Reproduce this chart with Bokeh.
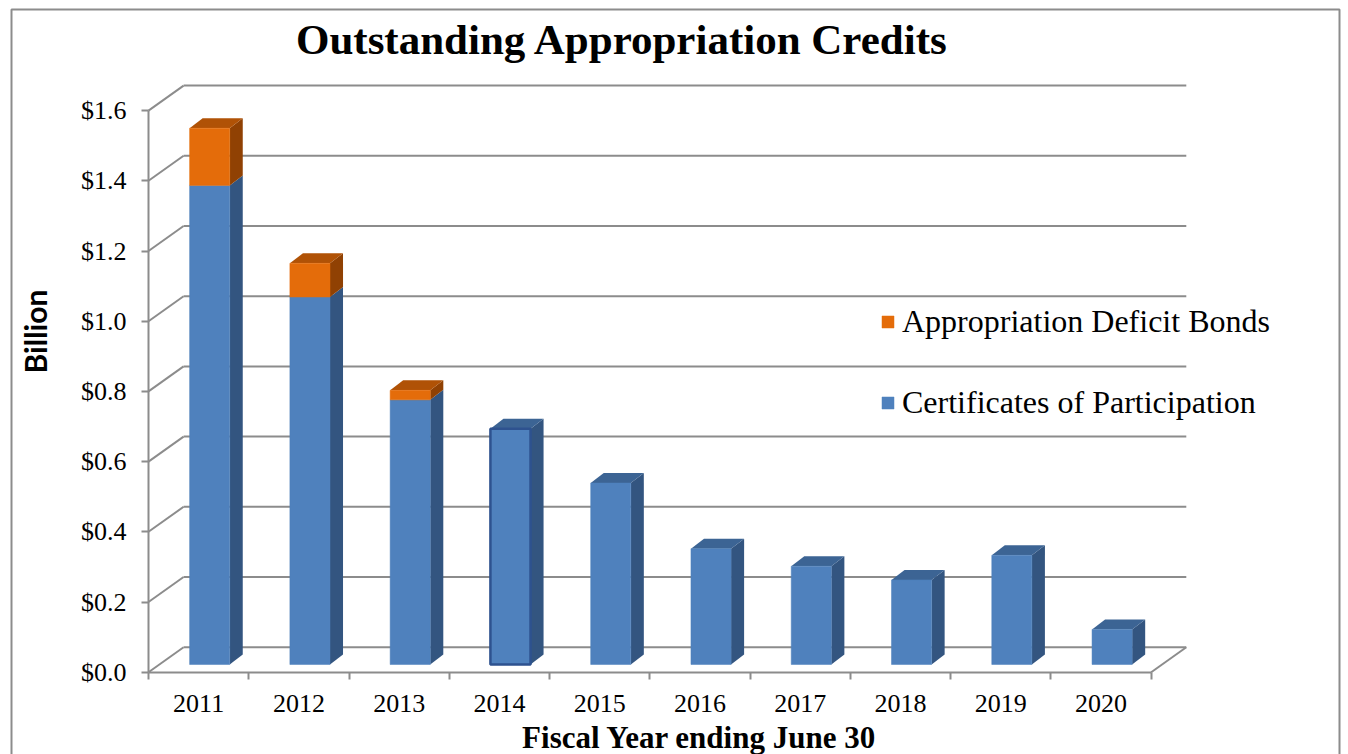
from bokeh.plotting import figure
from bokeh.models import (Range1d, LinearAxis, FixedTicker, Label, Legend,
                          LegendItem)
from bokeh.embed import file_html
from bokeh.resources import INLINE
import math

# ---------------- data ----------------
years = ["2011", "2012", "2013", "2014", "2015", "2016", "2017", "2018", "2019", "2020"]
certificates = [1.365, 1.047, 0.754, 0.672, 0.517, 0.330, 0.280, 0.241, 0.311, 0.100]
deficit_bonds = [0.163, 0.096, 0.027, 0.0, 0.0, 0.0, 0.0, 0.0, 0.0, 0.0]
series_names = ["Appropriation Deficit Bonds", "Certificates of Participation"]
y_ticks = [0.0, 0.2, 0.4, 0.6, 0.8, 1.0, 1.2, 1.4, 1.6]
y_tick_labels = ["$0.0", "$0.2", "$0.4", "$0.6", "$0.8", "$1.0", "$1.2", "$1.4", "$1.6"]
title_text = "Outstanding Appropriation Credits"
x_title = "Fiscal Year ending June 30"
y_title = "Billion"
highlight_year = "2014"

# ---------------- style ----------------
W, H = 1348, 754
PX_X, PX_Y = 100.27, 351.0          # pixels per data unit
ORIGIN_X, ORIGIN_Y = 148.0, 671.7   # canvas px of data origin (front axis)
WALL_DX, WALL_DY = 0.35, 25.0 / PX_Y
BAR_SHIFT, BAR_BASE, BAR_W = 0.11, 7.7 / PX_Y, 0.40
BAR_DX, BAR_DY = 0.13, 10.0 / PX_Y
GRID = "#8C8C8C"
BLUE, BLUE_SIDE, BLUE_TOP = "#4F81BD", "#335580", "#3C6494"
ORANGE, ORANGE_SIDE, ORANGE_TOP = "#E46C0A", "#904103", "#B05206"
SERIF = "Liberation Serif"
BORDER_L, BORDER_R, BORDER_T = 11, 1339, 9   # chart-area border, px


def px_x(v):
    return (v - ORIGIN_X) / PX_X


def px_y(v):
    return (ORIGIN_Y - v) / PX_Y


p = figure(width=W, height=H,
           x_range=Range1d(-ORIGIN_X / PX_X, (W - ORIGIN_X) / PX_X),
           y_range=Range1d(-(H - ORIGIN_Y) / PX_Y, ORIGIN_Y / PX_Y),
           x_axis_type=None, y_axis_type=None,
           toolbar_location=None, output_backend="svg",
           min_border=0, outline_line_color=None)
p.background_fill_color = "white"
p.border_fill_color = "white"

n = len(years)

# ---- chart border (left, top, right; bottom is off-canvas) ----
p.line(x=[px_x(BORDER_L), px_x(BORDER_L), px_x(BORDER_R), px_x(BORDER_R)],
       y=[px_y(H + 20), px_y(BORDER_T), px_y(BORDER_T), px_y(H + 20)],
       line_color=GRID, line_width=2)

# ---- 3D walls: side-wall diagonals, back-wall gridlines, floor edge ----
p.segment(x0=[0.0] * len(y_ticks), y0=y_ticks,
          x1=[WALL_DX] * len(y_ticks), y1=[v + WALL_DY for v in y_ticks],
          line_color=GRID, line_width=2)
p.segment(x0=[WALL_DX] * len(y_ticks), y0=[v + WALL_DY for v in y_ticks],
          x1=[n + WALL_DX] * len(y_ticks), y1=[v + WALL_DY for v in y_ticks],
          line_color=GRID, line_width=2)
p.segment(x0=[n], y0=[0.0], x1=[n + WALL_DX], y1=[WALL_DY],
          line_color=GRID, line_width=2)

# ---- bars ----
xc = [i + 0.5 + BAR_SHIFT for i in range(n)]
mid = [BAR_BASE + c for c in certificates]
top = [m + d for m, d in zip(mid, deficit_bonds)]

side_xs, side_ys, side_col = [], [], []
top_xs, top_ys, top_col = [], [], []
for i in range(n):
    xl, xr = xc[i] - BAR_W / 2, xc[i] + BAR_W / 2
    segs = [(BAR_BASE, mid[i], BLUE_SIDE)]
    if deficit_bonds[i] > 0:
        segs.append((mid[i], top[i], ORANGE_SIDE))
    for b, t, col in segs:
        side_xs.append([xr, xr + BAR_DX, xr + BAR_DX, xr])
        side_ys.append([b, b + BAR_DY, t + BAR_DY, t])
        side_col.append(col)
    T = top[i]
    top_xs.append([xl, xl + BAR_DX, xr + BAR_DX, xr])
    top_ys.append([T, T + BAR_DY, T + BAR_DY, T])
    top_col.append(ORANGE_TOP if deficit_bonds[i] > 0 else BLUE_TOP)

p.patches(xs=side_xs, ys=side_ys, fill_color=side_col, line_color=None)
p.patches(xs=top_xs, ys=top_ys, fill_color=top_col, line_color=None)

line_cols = ["#2E528F" if y == highlight_year else BLUE for y in years]
line_ws = [2.5 if y == highlight_year else 0.5 for y in years]
blue_r = p.vbar(x=xc, bottom=BAR_BASE, top=mid, width=BAR_W,
                fill_color=BLUE, line_color=line_cols, line_width=line_ws)

o_idx = [i for i in range(n) if deficit_bonds[i] > 0]
orange_r = p.vbar(x=[xc[i] for i in o_idx], bottom=[mid[i] for i in o_idx],
                  top=[top[i] for i in o_idx], width=BAR_W,
                  fill_color=ORANGE, line_color=ORANGE, line_width=0.5)

# ---- axes ----
yaxis = LinearAxis(fixed_location=0, ticker=FixedTicker(ticks=y_ticks),
                   bounds=(0, y_ticks[-1]),
                   major_label_overrides={v: l for v, l in zip(y_ticks, y_tick_labels)})
yaxis.axis_line_color = GRID
yaxis.axis_line_width = 2
yaxis.major_tick_line_color = GRID
yaxis.major_tick_line_width = 2
yaxis.major_tick_out = 7
yaxis.major_tick_in = 0
yaxis.minor_tick_line_color = None
yaxis.major_label_text_font = SERIF
yaxis.major_label_text_font_size = "26px"
yaxis.major_label_text_color = "black"
yaxis.major_label_standoff = 15
p.add_layout(yaxis, "left")

xaxis = LinearAxis(fixed_location=0,
                   ticker=FixedTicker(ticks=[i + 0.5 for i in range(n)],
                                      minor_ticks=[float(i) for i in range(n + 1)]),
                   bounds=(0, n),
                   major_label_overrides={i + 0.5: y for i, y in enumerate(years)})
xaxis.axis_line_color = GRID
xaxis.axis_line_width = 2
xaxis.major_tick_line_color = None
xaxis.major_tick_out = 0
xaxis.major_tick_in = 0
xaxis.minor_tick_line_color = GRID
xaxis.minor_tick_line_width = 2
xaxis.minor_tick_out = 7
xaxis.minor_tick_in = 0
xaxis.major_label_text_font = SERIF
xaxis.major_label_text_font_size = "26px"
xaxis.major_label_text_color = "black"
xaxis.major_label_standoff = 16
p.add_layout(xaxis, "below")

# ---- legend ----
legend = Legend(items=[LegendItem(label=series_names[0], renderers=[orange_r]),
                       LegendItem(label=series_names[1], renderers=[blue_r])],
                location=(880, 333), orientation="vertical",
                glyph_width=15, glyph_height=15, label_standoff=7,
                label_text_font=SERIF, label_text_font_size="32px",
                label_text_color="black", spacing=44, padding=0, margin=0,
                border_line_color=None, background_fill_alpha=0)
p.add_layout(legend)

# ---- texts ----
p.add_layout(Label(x=622, y=H - 39, x_units="screen", y_units="screen",
                   text=title_text, text_align="center", text_baseline="middle",
                   text_font=SERIF, text_font_style="bold", text_font_size="43px",
                   text_color="black"))
p.add_layout(Label(x=34.5, y=H - 331, x_units="screen", y_units="screen",
                   text=y_title, angle=math.pi / 2, text_align="center",
                   text_baseline="middle", text_font="Lato", text_font_style="bold",
                   text_font_size="30px", text_color="black"))
p.add_layout(Label(x=699, y=H - 737, x_units="screen", y_units="screen",
                   text=x_title, text_align="center", text_baseline="middle",
                   text_font=SERIF, text_font_style="bold", text_font_size="31px",
                   text_color="black"))

open("out.html", "w").write(file_html(p, INLINE))
